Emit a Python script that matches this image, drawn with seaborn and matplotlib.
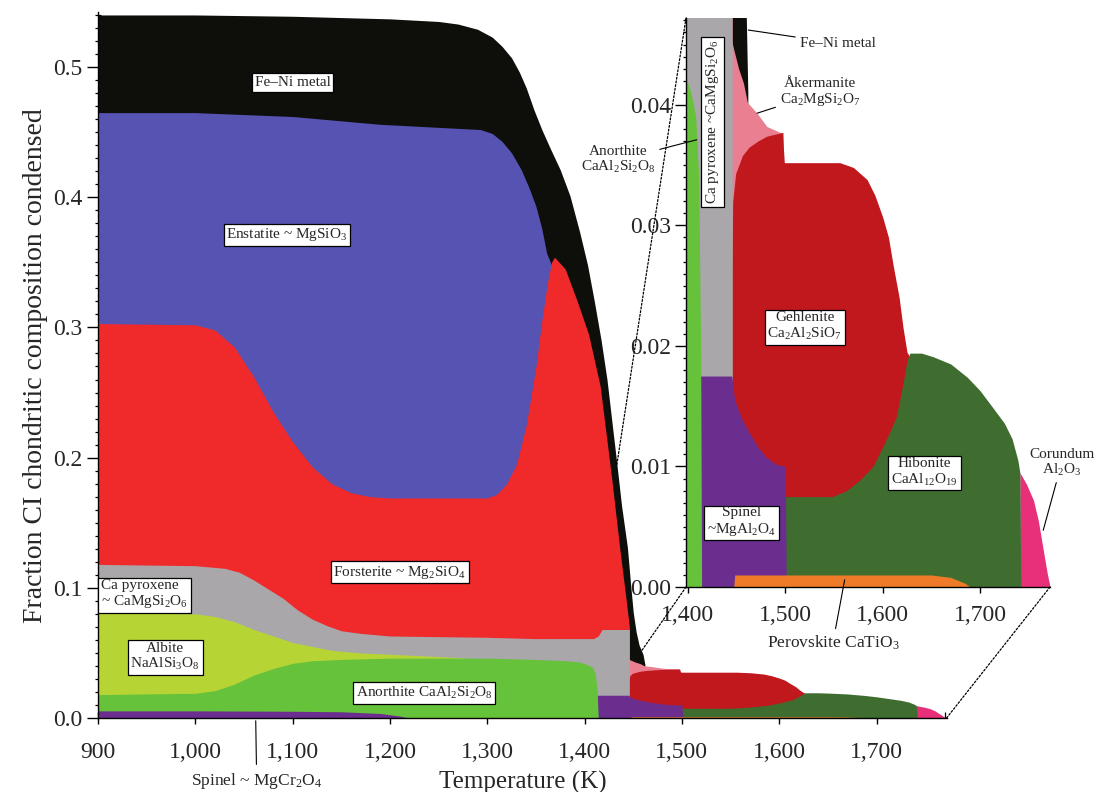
import numpy as np
import matplotlib
matplotlib.use("Agg")
import matplotlib.pyplot as plt
import seaborn as sns
from matplotlib.ticker import MultipleLocator, FuncFormatter, FormatStrFormatter
from matplotlib.patches import ConnectionPatch

# upper boundary (cumulative fraction condensed) of each phase field vs temperature (K)
feni_T = [900, 1000, 1100, 1200, 1250, 1270, 1290, 1305, 1315, 1325, 1333, 1340, 1348, 1356, 1365, 1375, 1385,
          1395, 1403, 1410, 1417, 1423, 1428, 1433, 1438, 1444, 1447, 1450, 1453, 1456, 1460, 1462]
feni_v = [0.540, 0.540, 0.539, 0.537, 0.535, 0.533, 0.529, 0.523, 0.516, 0.507, 0.496, 0.484, 0.467, 0.452, 0.437,
          0.421, 0.401, 0.373, 0.348, 0.320, 0.290, 0.260, 0.228, 0.196, 0.163, 0.131, 0.105, 0.081, 0.066, 0.056,
          0.049, 0.041]

enst_T = [900, 1000, 1100, 1190, 1293, 1305, 1315, 1325, 1335, 1343, 1350, 1356, 1361, 1366]
enst_v = [0.465, 0.465, 0.462, 0.456, 0.452, 0.449, 0.443, 0.434, 0.421, 0.407, 0.393, 0.376, 0.357, 0.348]

fors_T = [900, 1000, 1020, 1040, 1060, 1080, 1100, 1120, 1140, 1160, 1180, 1200, 1300, 1310, 1320, 1330, 1340,
          1350, 1356, 1362, 1366, 1369, 1380, 1392, 1404, 1416, 1428, 1436, 1442, 1446]
fors_v = [0.303, 0.302, 0.298, 0.285, 0.262, 0.235, 0.212, 0.193, 0.180, 0.173, 0.170, 0.169, 0.169, 0.172, 0.180,
          0.195, 0.225, 0.270, 0.305, 0.335, 0.350, 0.354, 0.345, 0.321, 0.295, 0.255, 0.183, 0.131, 0.095, 0.070]

aker_T = [1443, 1447, 1452, 1457, 1461, 1471, 1481, 1495, 1498]
aker_v = [0.046, 0.0446, 0.0430, 0.0418, 0.0402, 0.0393, 0.0382, 0.0377, 0.0377]

gehl_T = [1445, 1446, 1449, 1456, 1463, 1472, 1481, 1497, 1499, 1556, 1570, 1584, 1592, 1600, 1606, 1611, 1617,
          1621, 1625, 1627]
gehl_v = [0.026, 0.0320, 0.0343, 0.0358, 0.0365, 0.0370, 0.0374, 0.0377, 0.0352, 0.0352, 0.0348, 0.0338, 0.0325,
          0.0307, 0.0290, 0.0266, 0.0240, 0.0215, 0.0195, 0.0192]

cpx_T = [900, 1000, 1030, 1045, 1060, 1075, 1090, 1105, 1120, 1135, 1150, 1170, 1200, 1300, 1348, 1409, 1414,
         1418, 1446]
cpx_v = [0.118, 0.117, 0.115, 0.112, 0.106, 0.099, 0.092, 0.083, 0.076, 0.071, 0.067, 0.065, 0.063, 0.062, 0.061,
         0.061, 0.063, 0.068, 0.068]

albi_T = [900, 1000, 1020, 1040, 1060, 1080, 1100, 1120, 1140, 1170, 1210, 1256, 1280]
albi_v = [0.081, 0.080, 0.078, 0.074, 0.068, 0.063, 0.058, 0.055, 0.052, 0.050, 0.0486, 0.047, 0.046]

coru_T = [1741, 1748, 1755, 1760, 1765, 1769, 1772]
coru_v = [0.0095, 0.0085, 0.0072, 0.0055, 0.0031, 0.0012, 0.0]

hibo_T = [1500, 1548, 1563, 1577, 1590, 1600, 1607, 1614, 1621, 1625, 1628, 1640, 1652, 1670, 1687, 1700, 1713,
          1725, 1733, 1739, 1741, 1742]
hibo_v = [0.0075, 0.0075, 0.0080, 0.0089, 0.0100, 0.0116, 0.0128, 0.0141, 0.0169, 0.0188, 0.0194, 0.0194, 0.0191,
          0.0185, 0.0174, 0.0163, 0.0149, 0.0136, 0.0123, 0.0105, 0.0095, 0.0]

spal_T = [1409, 1410, 1445, 1448, 1455, 1463, 1472, 1480, 1490, 1500, 1501]
spal_v = [0.0, 0.0175, 0.0175, 0.0155, 0.0140, 0.0128, 0.0116, 0.0108, 0.0102, 0.0100, 0.0]

anor_T = [900, 1000, 1020, 1040, 1060, 1080, 1100, 1120, 1150, 1200, 1256, 1300, 1350, 1380, 1395, 1403, 1408,
          1411, 1413, 1414]
anor_v = [0.018, 0.019, 0.021, 0.026, 0.033, 0.038, 0.042, 0.044, 0.045, 0.046, 0.046, 0.046, 0.045, 0.044, 0.043,
          0.041, 0.039, 0.034, 0.020, 0.0]

perv_T = [1447, 1448, 1600, 1650, 1670, 1685, 1690]
perv_v = [0.0, 0.0010, 0.0010, 0.0010, 0.0008, 0.0003, 0.0]

spcr_T = [900, 1000, 1100, 1150, 1190, 1210, 1220]
spcr_v = [0.0055, 0.0055, 0.0052, 0.0048, 0.0035, 0.0015, 0.0]

# drawn back to front, each later field covering the lower part of earlier ones
layers = [
    (feni_T, feni_v, "#0e0e0b"),
    (enst_T, enst_v, "#5653b2"),
    (fors_T, fors_v, "#f0292b"),
    (aker_T, aker_v, "#e97f90"),
    (gehl_T, gehl_v, "#c0181d"),
    (cpx_T, cpx_v, "#a9a7aa"),
    (albi_T, albi_v, "#b6d535"),
    (coru_T, coru_v, "#e8307a"),
    (hibo_T, hibo_v, "#3f6d30"),
    (spal_T, spal_v, "#6b2d8e"),
    (anor_T, anor_v, "#66c13b"),
    (perv_T, perv_v, "#ef7a28"),
    (spcr_T, spcr_v, "#6b2d8e"),
]

sns.set_theme(style="ticks")
plt.rcParams["font.family"] = ["Liberation Serif", "DejaVu Serif"]
plt.rcParams["mathtext.default"] = "regular"

fig = plt.figure(figsize=(10.98, 7.92), dpi=100)
ax = fig.add_axes([0.0893, 0.0934, 0.7728, 0.891])
axi = fig.add_axes([0.6248, 0.2588, 0.3315, 0.7185])
axi.patch.set_alpha(0)


def draw(a):
    for T, v, c in layers:
        a.fill_between(T, 0, v, color=c, lw=0)


draw(ax)
draw(axi)

tick_font = 17
comma = FuncFormatter(lambda v, p: f"{int(round(v)):,}")

ax.set_xlim(900, 1772)
ax.set_ylim(0, 0.542)
ax.set_xticks([900, 1000, 1100, 1200, 1300, 1400, 1500, 1600, 1700])
ax.xaxis.set_minor_locator(MultipleLocator(10))
ax.yaxis.set_major_locator(MultipleLocator(0.1))
ax.yaxis.set_minor_locator(MultipleLocator(0.01))
ax.xaxis.set_major_formatter(comma)

axi.set_xlim(1398, 1772)
axi.set_ylim(0, 0.0472)
axi.set_xticks([1400, 1500, 1600, 1700])
axi.xaxis.set_minor_locator(MultipleLocator(10))
axi.yaxis.set_major_locator(MultipleLocator(0.01))
axi.yaxis.set_minor_locator(MultipleLocator(0.001))
axi.xaxis.set_major_formatter(comma)
axi.yaxis.set_major_formatter(FormatStrFormatter("%.2f"))

for a in (ax, axi):
    sns.despine(ax=a)
    for s in ("left", "bottom"):
        a.spines[s].set_linewidth(1.0)
        a.spines[s].set_color("black")
    a.tick_params(which="major", labelsize=tick_font, length=8, width=1, color="black", pad=3)
    a.tick_params(which="minor", length=4, width=0.9, color="black")
    a.tick_params(axis="x", which="major", direction="inout")
    a.tick_params(axis="x", which="minor", direction="in")
    a.tick_params(axis="y", which="minor", direction="inout")
ax.tick_params(axis="x", which="major", pad=13)
axi.tick_params(axis="x", which="major", pad=9)

ax.set_xlabel("Temperature (K)", fontsize=18, labelpad=6)
ax.set_ylabel("Fraction CI chondritic composition condensed", fontsize=20, labelpad=4)

box = dict(boxstyle="square,pad=0.18", fc="white", ec="black", lw=0.9)
lab = 11

ax.text(1100, 0.488, "Fe–Ni metal", ha="center", va="center", fontsize=lab, bbox=box)
ax.text(1094, 0.371, "Enstatite ~ MgSiO$_3$", ha="center", va="center", fontsize=lab, bbox=box)
ax.text(1210, 0.112, "Forsterite ~ Mg$_2$SiO$_4$", ha="center", va="center", fontsize=lab, bbox=box)
ax.text(903, 0.095, "Ca pyroxene\n~ CaMgSi$_2$O$_6$", ha="left", va="center", fontsize=lab, bbox=box,
        linespacing=1.1)
ax.text(969, 0.047, "Albite\nNaAlSi$_3$O$_8$", ha="center", va="center", fontsize=lab, bbox=box,
        multialignment="center", linespacing=1.1)
ax.text(1235, 0.019, "Anorthite CaAl$_2$Si$_2$O$_8$", ha="center", va="center", fontsize=lab, bbox=box)
ax.annotate("Spinel ~ MgCr$_2$O$_4$", xy=(1062, 0.0), xytext=(1063, -0.048), ha="center", va="center",
            fontsize=12.5, annotation_clip=False, arrowprops=dict(arrowstyle="-", lw=0.8, color="black"))

axi.text(1425, 0.0386, "Ca pyroxene ~CaMgSi$_2$O$_6$", rotation=90, ha="center", va="center", fontsize=lab,
         bbox=box)
axi.text(1520, 0.0216, "Gehlenite\nCa$_2$Al$_2$SiO$_7$", ha="center", va="center", fontsize=lab, bbox=box,
         multialignment="center", linespacing=1.1)
axi.text(1643, 0.0095, "Hibonite\nCaAl$_{12}$O$_{19}$", ha="center", va="center", fontsize=lab, bbox=box,
         multialignment="center", linespacing=1.1)
axi.text(1455, 0.0054, "Spinel\n~MgAl$_2$O$_4$", ha="center", va="center", fontsize=lab, bbox=box,
         multialignment="center", linespacing=1.1)

arrow = dict(arrowstyle="-", lw=0.8, color="black", shrinkA=1, shrinkB=0)
axi.annotate("Fe–Ni metal", xy=(1462, 0.0462), xytext=(1554, 0.0451), ha="center", va="center",
             fontsize=lab, annotation_clip=False, arrowprops=arrow)
axi.annotate("Åkermanite\nCa$_2$MgSi$_2$O$_7$", xy=(1471, 0.0393), xytext=(1536, 0.0410), ha="center",
             va="center", fontsize=lab, multialignment="center", linespacing=1.1, annotation_clip=False,
             arrowprops=arrow)
axi.annotate("Anorthite\nCaAl$_2$Si$_2$O$_8$", xy=(1409, 0.0371), xytext=(1328, 0.0354), ha="center",
             va="center", fontsize=lab, multialignment="center", linespacing=1.1, annotation_clip=False,
             arrowprops=arrow)
axi.annotate("Corundum\nAl$_2$O$_3$", xy=(1765, 0.0047), xytext=(1784, 0.0103), ha="center", va="center",
             fontsize=lab, multialignment="center", linespacing=1.1, annotation_clip=False, arrowprops=arrow)
axi.annotate("Perovskite CaTiO$_3$", xy=(1561, 0.0006), xytext=(1549, -0.0046), ha="center", va="center",
             fontsize=12.5, annotation_clip=False, arrowprops=arrow)

# dotted zoom lines from the inset corners back to the main panel
zoom_lines = [((1398, 0.0472), (1433, 0.194)), ((1398, 0.0), (1458, 0.051)), ((1772, 0.0), (1772, 0.0))]
for (pa, pb) in zoom_lines:
    con = ConnectionPatch(xyA=pa, coordsA="data", axesA=axi, xyB=pb, coordsB="data", axesB=ax,
                          color="black", lw=0.9, ls=(0, (1.5, 1.5)))
    fig.add_artist(con)

fig.savefig("out.png", dpi=100)
